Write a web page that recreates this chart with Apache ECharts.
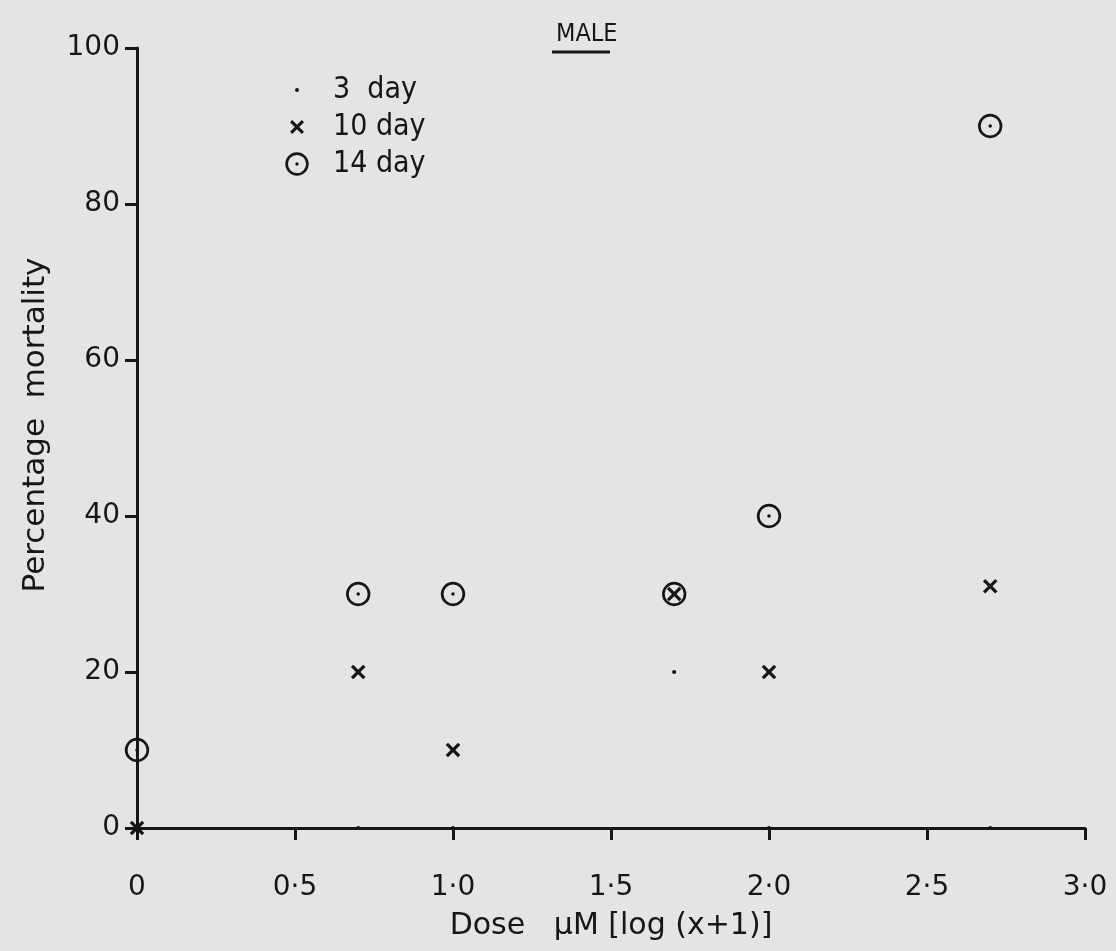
<!DOCTYPE html>
<html>
<head>
<meta charset="utf-8">
<script src="https://cdn.jsdelivr.net/npm/echarts@6/dist/echarts.min.js"></script>
<style>
  html, body { margin: 0; padding: 0; background: #e4e4e2; }
  #chart { width: 1116px; height: 951px; }
</style>
</head>
<body>
<div id="chart"></div>
<script>
// dose values, log(x+1)
const doses = [0, 0.7, 1.0, 1.7, 2.0, 2.7];
// percentage mortality per exposure time
const day3 = [0, 0, 0, 20, 0, 0];
const day10 = [0, 20, 10, 30, 20, 31];
const day14 = [10, 30, 30, 30, 40, 90];
const seriesNames = ['3  day', '10 day', '14 day'];
const xTicks = [0, 0.5, 1.0, 1.5, 2.0, 2.5, 3.0];

const ink = '#161616';
const font = '"DejaVu Sans", sans-serif';
const fontNarrow = '"DejaVu Sans Condensed", "DejaVu Sans", sans-serif';

// every symbol sits in a 24x24 box (the M moves keep the box size)
const dotSym = 'path://M0 0M24 24M12 10A2 2 0 1 1 11.99 10Z';
const crossSym = 'path://M0 0M24 24M5 7.2L7.2 5L12 9.8L16.8 5L19 7.2L14.2 12L19 16.8L16.8 19L12 14.2L7.2 19L5 16.8L9.8 12Z';
const ringSym = 'path://M0 0M24 24M12 0.3A11.7 11.7 0 1 1 11.99 0.3Z' +
  'M12 2.9A9.1 9.1 0 1 0 12.01 2.9Z' +
  'M12 10.3A1.7 1.7 0 1 1 11.99 10.3Z';

const pairs = (ys) => doses.map((d, i) => [d, ys[i]]);

const chart = echarts.init(document.getElementById('chart'));

chart.setOption({
  backgroundColor: '#e4e4e2',
  animation: false,
  textStyle: { fontFamily: font, color: ink },
  title: {
    text: 'MALE',
    left: 551,
    top: 17,
    textStyle: { fontFamily: fontNarrow, fontSize: 25, fontWeight: 'normal', color: ink }
  },
  graphic: [
    // underline of title
    { type: 'line', shape: { x1: 552, y1: 52, x2: 610, y2: 52 }, style: { stroke: ink, lineWidth: 3 } }
  ],
  legend: {
    orient: 'vertical',
    left: 280,
    top: 70,
    itemWidth: 24,
    itemHeight: 24,
    itemGap: 7,
    selectedMode: false,
    textStyle: { fontFamily: fontNarrow, fontSize: 30, color: ink, padding: [0, 0, 0, 19] },
    data: seriesNames
  },
  grid: { left: 137, top: 48, right: 31, bottom: 123 },
  xAxis: {
    type: 'value',
    min: 0,
    max: 3,
    interval: 0.5,
    name: 'Dose   \u00b5M [log (x+1)]',
    nameLocation: 'middle',
    nameGap: 83,
    nameTextStyle: { fontFamily: font, fontSize: 30, color: ink },
    axisLine: { lineStyle: { color: ink, width: 3 } },
    axisTick: { length: 12, lineStyle: { color: ink, width: 3 } },
    axisLabel: {
      margin: 46,
      fontSize: 28,
      color: ink,
      fontFamily: font,
      formatter: (v) => xTicks.indexOf(v) === 0 ? '0' : v.toFixed(1).replace('.', '\u00b7')
    },
    splitLine: { show: false }
  },
  yAxis: {
    type: 'value',
    min: 0,
    max: 100,
    interval: 20,
    name: 'Percentage  mortality',
    nameLocation: 'middle',
    nameGap: 86,
    nameTextStyle: { fontFamily: font, fontSize: 31, color: ink, padding: [0, 0, 0, 26] },
    axisLine: { lineStyle: { color: ink, width: 3 } },
    axisTick: { length: 12, lineStyle: { color: ink, width: 3 } },
    axisLabel: { margin: 17, fontSize: 28, color: ink, fontFamily: font },
    splitLine: { show: false }
  },
  series: [
    {
      name: seriesNames[0], type: 'scatter', data: pairs(day3),
      symbol: dotSym, symbolSize: 25, clip: false, z: 4,
      itemStyle: { color: ink, opacity: 1 }
    },
    {
      name: seriesNames[1], type: 'scatter', data: pairs(day10),
      symbol: crossSym, symbolSize: 25, clip: false, z: 3,
      itemStyle: { color: ink, opacity: 1 }
    },
    {
      name: seriesNames[2], type: 'scatter', data: pairs(day14),
      symbol: ringSym, symbolSize: 25, clip: false, z: 2,
      itemStyle: { color: ink, opacity: 1 }
    }
  ]
});
</script>
</body>
</html>
